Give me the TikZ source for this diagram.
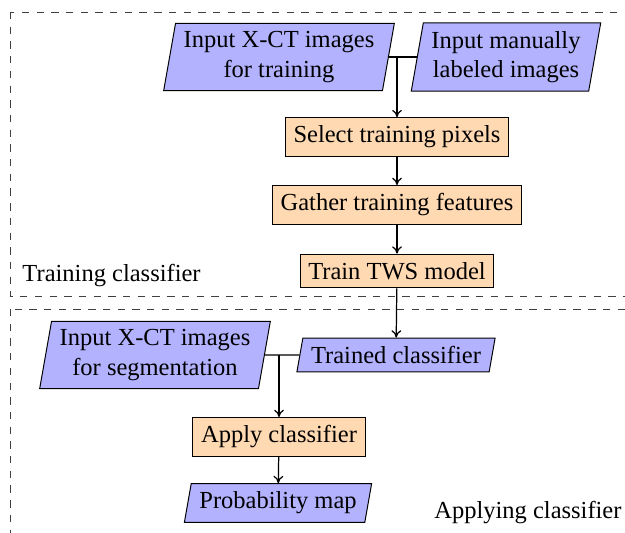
\documentclass[tikz,border=0pt]{standalone}
\usepackage{fontspec}
\setmainfont{Liberation Serif}
\usetikzlibrary{shapes.geometric,arrows.meta}
\tikzset{
  iobox/.style={draw=black, fill=blue!30, trapezium, trapezium left angle=80, trapezium right angle=100, align=center, font=\fontsize{10}{12}\selectfont},
  procbox/.style={draw=black, fill=orange!30, rectangle, align=center, font=\fontsize{10}{12}\selectfont},
  frame/.style={draw=black!75, dashed, line width=0.4pt},
  conn/.style={draw=black, line width=0.5pt},
  arr/.style={conn, -{To[length=3pt,width=4pt]}},
  lbl/.style={inner sep=0pt, font=\fontsize{10}{12}\selectfont}
}
\begin{document}
\begin{tikzpicture}[x=0.408pt, y=-0.408pt]
\useasboundingbox (0,0) rectangle (625,532);
\clip (0,0) rectangle (625,532);
% frames
\draw[frame] (10,12) rectangle (640,296);
\draw[frame] (10,309) rectangle (640,560);
% nodes
\node[iobox] (p1) at (279,57) {Input X-CT images\\for training};
\node[iobox] (p2) at (506,57) {Input manually\\labeled images};
\node[procbox] (select) at (397,137) {Select training pixels};
\node[procbox] (gather) at (397,205) {Gather training features};
\node[procbox] (train) at (397,271) {Train TWS model};
\node[iobox] (trained) at (396,355) {Trained classifier};
\node[iobox] (seg) at (155,355) {Input X-CT images\\for segmentation};
\node[procbox] (apply) at (279,437) {Apply classifier};
\node[iobox] (prob) at (278,503) {Probability map};
\node[lbl, anchor=west] (tl) at (22,276) {Training classifier};
\node[lbl, anchor=east] (al) at (622,513) {Applying classifier};
% connectors
\draw[conn] (p1.east) -- (p2.west);
\coordinate (j1) at (select.north |- p1.east);
\draw[arr] (j1) -- (select.north);
\draw[arr] (select) -- (gather);
\draw[arr] (gather) -- (train);
\draw[arr] (train) -- (trained);
\draw[conn] (seg.east) -- (trained.west);
\coordinate (j2) at (apply.north |- seg.east);
\draw[arr] (j2) -- (apply.north);
\draw[arr] (apply) -- (prob);
\end{tikzpicture}
\end{document}
